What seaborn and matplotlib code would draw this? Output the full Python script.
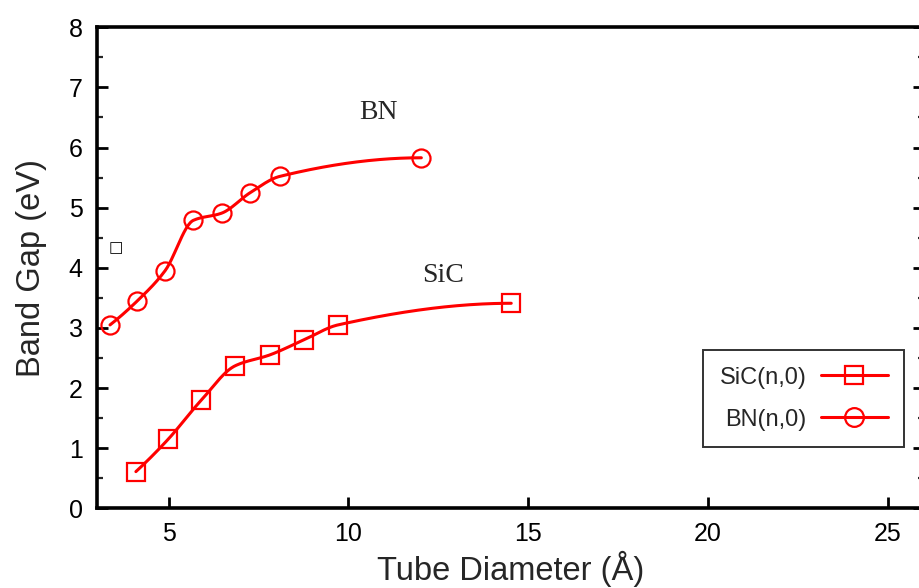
import numpy as np
import pandas as pd
import matplotlib
matplotlib.use("Agg")
import matplotlib.pyplot as plt
from matplotlib.lines import Line2D
from matplotlib.ticker import MultipleLocator
import seaborn as sns

# ---- data ----
bn_diameter = [3.37, 4.13, 4.90, 5.69, 6.48, 7.27, 8.09, 12.03]
bn_gap = [3.05, 3.45, 3.95, 4.79, 4.91, 5.25, 5.52, 5.83]
sic_diameter = [4.09, 4.99, 5.91, 6.85, 7.81, 8.76, 9.71, 14.53]
sic_gap = [0.61, 1.15, 1.80, 2.37, 2.55, 2.80, 3.05, 3.41]
series_labels = ["SiC(n,0)", "BN(n,0)"]
x_ticks = [5, 10, 15, 20, 25]
y_ticks = [0, 1, 2, 3, 4, 5, 6, 7, 8]


def pchip(x, y, n=300):
    """Monotone cubic (Fritsch-Carlson) smoothing used only to render the connecting line."""
    x = np.asarray(x, float)
    y = np.asarray(y, float)
    h = np.diff(x)
    d = np.diff(y) / h
    m = np.zeros_like(x)
    for k in range(1, len(x) - 1):
        if d[k - 1] * d[k] > 0:
            w1 = 2 * h[k] + h[k - 1]
            w2 = h[k] + 2 * h[k - 1]
            m[k] = (w1 + w2) / (w1 / d[k - 1] + w2 / d[k])
    def end(h0, h1, d0, d1):
        v = ((2 * h0 + h1) * d0 - h0 * d1) / (h0 + h1)
        if np.sign(v) != np.sign(d0):
            v = 0.0
        elif np.sign(d0) != np.sign(d1) and abs(v) > abs(3 * d0):
            v = 3 * d0
        return v
    m[0] = end(h[0], h[1], d[0], d[1])
    m[-1] = end(h[-1], h[-2], d[-1], d[-2])
    xs = np.linspace(x[0], x[-1], n)
    idx = np.clip(np.searchsorted(x, xs) - 1, 0, len(x) - 2)
    t = (xs - x[idx]) / h[idx]
    h00 = 2 * t**3 - 3 * t**2 + 1
    h10 = t**3 - 2 * t**2 + t
    h01 = -2 * t**3 + 3 * t**2
    h11 = t**3 - t**2
    ys = h00 * y[idx] + h10 * h[idx] * m[idx] + h01 * y[idx + 1] + h11 * h[idx] * m[idx + 1]
    return xs, ys


sns.set_theme(style="ticks")
plt.rcParams["font.family"] = ["Liberation Sans", "DejaVu Sans"]

RED = "#ff0000"
fig = plt.figure(figsize=(9.2, 5.88), dpi=100)
ax = fig.add_axes([96.7 / 920, 79.7 / 588, 826.9 / 920, 481 / 588])

for xd, yd, mk in [(sic_diameter, sic_gap, "s"), (bn_diameter, bn_gap, "o")]:
    xs, ys = pchip(xd, yd)
    sns.lineplot(x=xs, y=ys, ax=ax, color=RED, linewidth=2.2, sort=False,
                 estimator=None, legend=False)
    sns.lineplot(x=xd, y=yd, ax=ax, color=RED, linestyle="", marker=mk,
                 markersize=13 if mk == "o" else 12.5, markerfacecolor="none",
                 markeredgecolor=RED, markeredgewidth=1.6, sort=False,
                 estimator=None, legend=False)

ax.set_xlim(3, 26)
ax.set_ylim(0, 8)
ax.set_xticks(x_ticks)
ax.set_yticks(y_ticks)
ax.yaxis.set_minor_locator(MultipleLocator(0.5))
ax.tick_params(axis="both", which="major", direction="in", length=8, width=2,
               labelsize=18, pad=10, colors="black")
ax.tick_params(axis="y", which="minor", direction="in", length=4, width=1.6)
ax.tick_params(axis="y", which="both", right=True)
for s in ax.spines.values():
    s.set_linewidth(2.6)
    s.set_color("black")

ax.set_xlabel("Tube Diameter (Å)", fontsize=23.5, labelpad=3)
ax.set_ylabel("Band Gap (eV)", fontsize=23.5, labelpad=16)

ax.text(10.84, 6.58, "BN", fontsize=20, family="Liberation Serif",
        ha="center", va="center")
ax.text(12.63, 3.88, "SiC", fontsize=20, family="Liberation Serif",
        ha="center", va="center")
ax.text(3.52, 4.34, "□", fontsize=11, family="DejaVu Sans",
        ha="center", va="center", color="black")

handles = [
    Line2D([], [], color=RED, linewidth=2.2, marker="s", markersize=13,
           markerfacecolor="none", markeredgecolor=RED, markeredgewidth=1.6),
    Line2D([], [], color=RED, linewidth=2.2, marker="o", markersize=13.5,
           markerfacecolor="none", markeredgecolor=RED, markeredgewidth=1.6),
]
leg = ax.legend(handles, series_labels, loc="center",
                bbox_to_anchor=(0.855, 0.228), markerfirst=False, fontsize=17,
                frameon=True, fancybox=False, edgecolor="black",
                borderpad=0.7, labelspacing=0.85, handlelength=2.85,
                handletextpad=0.6, numpoints=1)
leg.get_frame().set_linewidth(1.4)

fig.savefig("out.png", dpi=100)
